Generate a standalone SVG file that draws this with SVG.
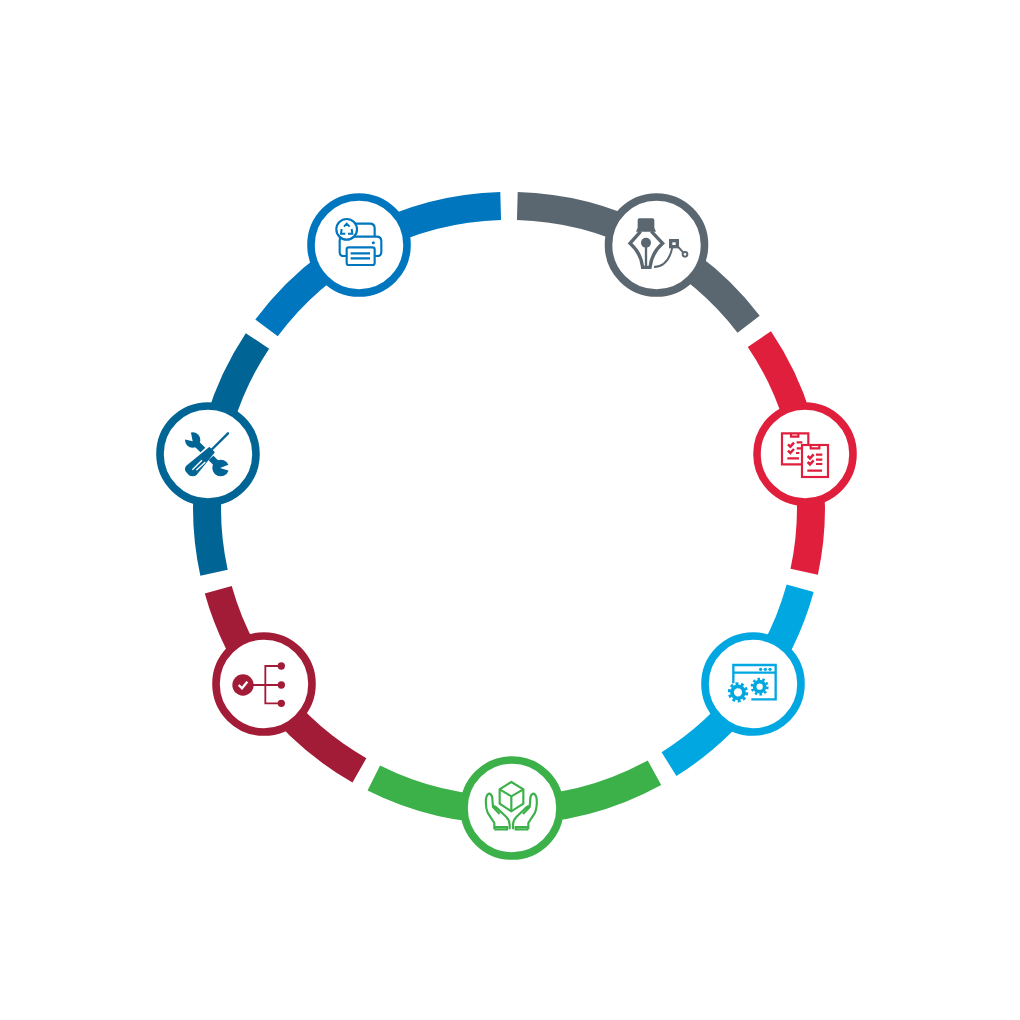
<svg xmlns="http://www.w3.org/2000/svg" width="1020" height="1020" viewBox="0 0 1020 1020">
<style>
.seg{fill:none;stroke-width:28}
.ring{fill:#fff;stroke-width:7.6}
.ic{fill:none;stroke-linejoin:miter}
.grey{stroke:#5b6770}.red{stroke:#e01f3d}.cyan{stroke:#00a7e1}.green{stroke:#3cb14a}.maroon{stroke:#a31c37}.navy{stroke:#006595}.blue{stroke:#0076bf}
.fgrey{fill:#5b6770}.fred{fill:#e01f3d}.fcyan{fill:#00a7e1}.fmaroon{fill:#a31c37}.fnavy{fill:#006595}.fblue{fill:#0076bf}
</style>
<rect width="1020" height="1020" fill="#fff"/>
<g id="connectors" transform="rotate(-90 509 508)">
<circle class="seg grey" cx="509" cy="508" r="302" pathLength="360" stroke-dasharray="0 1.6 50.9 360"/>
<circle class="seg red" cx="509" cy="508" r="302" pathLength="360" stroke-dasharray="0 56 46.2 360"/>
<circle class="seg cyan" cx="509" cy="508" r="302" pathLength="360" stroke-dasharray="0 105.4 42.6 360"/>
<circle class="seg green" cx="509" cy="508" r="302" pathLength="360" stroke-dasharray="0 151.2 55.4 360"/>
<circle class="seg maroon" cx="509" cy="508" r="302" pathLength="360" stroke-dasharray="0 209.7 44.6 360"/>
<circle class="seg navy" cx="509" cy="508" r="302" pathLength="360" stroke-dasharray="0 257.6 46 360"/>
<circle class="seg blue" cx="509" cy="508" r="302" pathLength="360" stroke-dasharray="0 306.6 51.8 360"/>
</g>
<g id="node-design">
<circle class="ring grey" cx="656.5" cy="245" r="48"/>
<g class="ic grey" transform="translate(600 190) scale(.3333)">
<path class="fgrey" stroke="none" d="M118,85 H158 Q163,85 163,90 V113 L168,125 H108 L113,113 V90 Q113,85 118,85 Z"/>
<path stroke-width="10" d="M122,124 L90,160 Q124,190 128,232 H150 Q154,190 188,160 L154,124"/>
<path stroke-width="7" d="M138,160 V232"/>
<circle class="fgrey" cx="138" cy="158" r="15" stroke="none"/>
<rect stroke-width="10" x="212" y="152" width="20" height="18"/>
<path stroke-width="6" d="M234,170 L250,188M162,231 Q205,230 217,172"/>
<circle stroke-width="6" cx="255" cy="193" r="7"/>
</g>
</g>
<g id="node-checklist">
<circle class="ring red" cx="805" cy="454" r="48"/>
<g class="ic red" transform="translate(750 400) scale(.3333)" stroke-width="6.5">
<path d="M153,193 H96 V100 H175 V133"/>
<path d="M123,101 V110 H145 V101"/>
<path stroke-width="7.5" d="M114,133 L121,140 L132,128M114,152 L121,159 L132,147"/>
<path d="M140,127 H157M140,145 H155M138,159 H148M112,175 H147"/>
<rect x="156" y="135" width="78" height="96"/>
<path d="M182,136 V145 H208 V136"/>
<path stroke-width="7.5" d="M173,168 L180,175 L191,163M173,186 L180,193 L191,181"/>
<path d="M198,164 H217M198,179 H217M198,192 H217M172,212 H216"/>
</g>
</g>
<g id="node-settings">
<circle class="ring cyan" cx="753" cy="684" r="48"/>
<g class="ic cyan" transform="translate(698 630) scale(.3333)" stroke-width="7">
<path d="M106,160 V105 H233 V208 H160M106,128 H233"/>
<circle class="fcyan" stroke="none" cx="188" cy="118" r="5"/>
<circle class="fcyan" stroke="none" cx="202" cy="118" r="5"/>
<circle class="fcyan" stroke="none" cx="216" cy="118" r="5"/>
<circle stroke-width="11" cx="120" cy="187" r="18"/>
<circle stroke-width="9" cx="120" cy="187" r="26" stroke-dasharray="8.6 7.74"/>
<circle stroke-width="11" cx="185" cy="170" r="15"/>
<circle stroke-width="8" cx="185" cy="170" r="23" stroke-dasharray="7.5 6.95"/>
</g>
</g>
<g id="node-care">
<circle class="ring green" cx="512" cy="808" r="48"/>
<g class="ic green" transform="translate(457 752) scale(.3333)" stroke-width="6.5">
<path d="M163,90 L199,112 V155 L163,178 L128,155 V112 Z"/>
<path d="M128,112 L163,133 L199,112M163,133 V178"/>
<path d="M112,232 V213 L92,182 Q85,165 87,140 Q90,125 98,125 Q106,128 106,140 L108,165 L128,186 M108,165 Q112,160 120,168 L148,195 Q158,205 158,218 V232 M112,225 H150 V232 H112"/>
<path transform="translate(326 0) scale(-1 1)" d="M112,232 V213 L92,182 Q85,165 87,140 Q90,125 98,125 Q106,128 106,140 L108,165 L128,186 M108,165 Q112,160 120,168 L148,195 Q158,205 158,218 V232 M112,225 H150 V232 H112"/>
</g>
</g>
<g id="node-process">
<circle class="ring maroon" cx="264" cy="684" r="48"/>
<g class="ic maroon" transform="translate(208 630) scale(.3333)" stroke-width="5.5">
<circle class="fmaroon" stroke="none" cx="105" cy="165" r="32"/>
<path stroke="#fff" stroke-width="7" d="M92,165 L102,175 L118,155"/>
<path d="M135,165 H220M220,108 H172 V220 H220"/>
<circle class="fmaroon" stroke="none" cx="220" cy="108" r="11"/>
<circle class="fmaroon" stroke="none" cx="220" cy="165" r="11"/>
<circle class="fmaroon" stroke="none" cx="220" cy="220" r="11"/>
</g>
</g>
<g id="node-tools">
<circle class="ring navy" cx="208" cy="454" r="48"/>
<g class="ic navy" transform="translate(152 400) scale(.3333)">
<path stroke-width="20" d="M130,128 L195,192"/>
<circle class="fnavy" stroke="none" cx="122" cy="120" r="23"/>
<path fill="#fff" stroke="none" d="M122,124 L96,118 L96,96 L116,94 Z"/>
<circle class="fnavy" stroke="none" cx="206" cy="204" r="25"/>
<path fill="#fff" stroke="none" d="M204,204 L235,192 L236,214 Z"/>
<path stroke="#fff" stroke-width="34" stroke-linecap="round" d="M178,150 L112,212"/>
<path stroke-width="7" stroke-linecap="round" d="M228,100 L172,156"/>
<path class="fnavy" stroke="#006595" stroke-width="4" stroke-linejoin="round" d="M172,143 L186,157 L132,224 Q122,230 112,224 L103,214 Q98,206 105,198 Z"/>
<path stroke="#fff" stroke-width="4" d="M121,209 L150,181M133,211 L160,186"/>
</g>
</g>
<g id="node-printer">
<circle class="ring blue" cx="359" cy="245" r="48"/>
<g class="ic blue" transform="translate(304 190) scale(.3333)" stroke-width="6.5">
<path d="M130,198 H118 Q107,198 107,186 V152 Q107,140 120,140 H218 Q232,140 232,154 V186 Q232,198 220,198 H212"/>
<path d="M150,101 H198 Q212,101 212,115 V140"/>
<rect x="128" y="172" width="84" height="53" rx="6"/>
<path d="M140,190 H198M140,205 H198"/>
<circle class="fblue" stroke="none" cx="208" cy="158" r="4.5"/>
<circle fill="#fff" cx="128" cy="118" r="31"/>
<path stroke-width="6" d="M120,110 L128,101 L137,110M143,117 L145,131 L132,131M124,131 L111,131 L113,117"/>
</g>
</g>
</svg>
